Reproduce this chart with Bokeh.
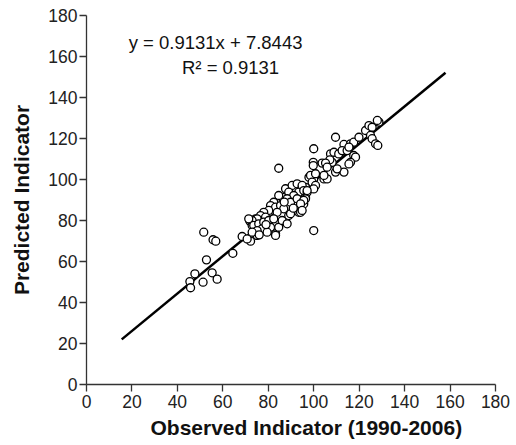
from bokeh.plotting import figure
from bokeh.models import Range1d, FixedTicker, Label, Title
from bokeh.embed import file_html
from bokeh.resources import INLINE

# Observed vs predicted indicator values
observed = [
    45.5, 45.8, 47.7, 51.3, 55.3, 57.5, 52.8, 51.6, 55.7, 56.9, 64.4, 68.5,
    71.9, 74.4, 72.9, 73.6, 72.2, 70.7, 75.1,
    84.6, 97.9, 87.6, 90.5, 92.7, 94.9, 93.4, 89.0, 91.2, 86.1, 84.6, 88.3,
    89.8, 92.7, 96.4, 95.6, 93.4, 82.4, 81.0, 83.2, 85.4, 86.8, 83.9, 80.2,
    78.0, 76.6, 78.8, 75.1, 72.9, 71.4, 73.6, 75.8, 78.0, 80.2, 82.4, 81.0,
    77.3, 75.1, 72.9, 79.5, 83.2, 84.6, 86.1, 89.0, 88.3, 83.2, 89.8, 94.2,
    100.0, 99.8, 99.8, 103.7, 109.6, 113.3, 116.2, 117.6, 119.9, 122.8, 124.3,
    125.7, 128.7, 125.0, 125.7, 127.2, 128.2, 107.4, 108.9, 111.0, 112.5,
    114.7, 115.5, 117.6, 118.4, 116.2, 115.5, 113.3, 109.6, 110.3, 108.1,
    107.1, 105.2, 105.9, 104.5, 100.0, 98.6, 100.8, 99.3, 100.8, 96.4, 94.9,
    95.6, 97.1, 96.4, 95.6, 94.2, 100.0, 94.9, 100.0, 128.0, 105.9, 104.5,
    97.1, 91.0, 87.0, 79.0, 76.0,
]
predicted = [
    50.2, 47.2, 54.0, 49.9, 54.5, 51.4, 60.8, 74.3, 70.6, 69.9, 64.0, 72.2,
    79.7, 80.8, 77.6, 74.3, 69.9, 71.0, 72.7,
    105.5, 101.1, 95.5, 97.1, 97.9, 96.2, 93.8, 93.8, 92.2, 91.4, 92.2, 90.6,
    88.9, 90.6, 91.4, 88.1, 84.0, 88.9, 87.3, 86.5, 87.3, 85.7, 84.0, 84.9,
    84.0, 82.4, 81.6, 80.8, 80.0, 80.8, 77.6, 78.4, 79.2, 80.0, 80.8, 76.7,
    75.9, 75.1, 74.3, 74.3, 73.5, 76.7, 80.0, 82.4, 78.4, 72.7, 83.3, 84.0,
    115.0, 108.4, 106.8, 108.0, 120.6, 117.1, 117.4, 118.2, 120.6, 123.9, 126.3,
    125.5, 128.0, 121.5, 119.9, 117.4, 116.6, 112.5, 113.3, 112.5, 114.1,
    114.1, 115.8, 111.7, 110.9, 108.4, 107.6, 103.6, 103.6, 105.2, 108.4,
    109.6, 108.0, 106.0, 100.3, 100.3, 102.0, 102.8, 98.7, 97.1, 96.2, 97.1,
    94.6, 93.8, 90.6, 89.8, 88.1, 95.4, 84.9, 75.1, 128.8, 100.3, 102.0,
    94.6, 86.0, 89.0, 78.0, 73.0,
]

# Regression line y = slope * x + intercept, drawn over this x span
slope = 0.9131
intercept = 7.8443
fit_x = [15.5, 158.0]
fit_y = [slope * v + intercept for v in fit_x]

ticks = [0, 20, 40, 60, 80, 100, 120, 140, 160, 180]
eq_text = "y = 0.9131x + 7.8443"
r2_text = "R\u00b2 = 0.9131"
x_title = "Observed Indicator (1990-2006)"
y_title = "Predicted Indicator"

FONT = "Liberation Sans"

p = figure(width=516, height=445, output_backend="svg", toolbar_location=None,
           x_range=Range1d(0, 180), y_range=Range1d(0, 180),
           min_border_left=86, min_border_right=21, min_border_top=15,
           min_border_bottom=61)
p.outline_line_color = None
p.xgrid.visible = False
p.ygrid.visible = False
p.background_fill_color = "white"
p.border_fill_color = "white"

for ax in (p.xaxis[0], p.yaxis[0]):
    ax.ticker = FixedTicker(ticks=ticks)
    ax.axis_line_color = "#333333"
    ax.axis_line_width = 1.3
    ax.major_tick_line_color = "#333333"
    ax.major_tick_line_width = 1.3
    ax.major_tick_out = 7
    ax.major_tick_in = 0
    ax.minor_tick_line_color = None
    ax.major_label_text_font = FONT
    ax.major_label_text_font_size = "17.5px"
    ax.major_label_text_color = "#222222"
    ax.axis_label_text_font = FONT
    ax.axis_label_text_font_style = "bold"
    ax.axis_label_text_font_size = "21px"
    ax.axis_label_text_color = "#111111"

p.yaxis.axis_label = y_title
p.xaxis.major_label_standoff = 3
p.yaxis.major_label_standoff = 2
p.yaxis.axis_label_standoff = 12

p.line(fit_x, fit_y, line_color="black", line_width=2.5)
p.scatter(observed, predicted, marker="circle", size=8,
          fill_color="white", line_color="black", line_width=1.3)

p.add_layout(Label(x=56.8, y=166.8, text=eq_text, text_align="center",
                   text_baseline="middle", text_font=FONT,
                   text_font_size="18.5px", text_color="#111111"))
p.add_layout(Label(x=63.4, y=154.6, text=r2_text, text_align="center",
                   text_baseline="middle", text_font=FONT,
                   text_font_size="18.5px", text_color="#111111"))

# x-axis title, set slightly right of the frame centre as in the original
p.add_layout(Title(text=x_title, align="left", offset=64, standoff=6,
                   text_font=FONT, text_font_style="bold",
                   text_font_size="21px", text_color="#111111"), "below")

open("out.html", "w").write(file_html(p, INLINE))
